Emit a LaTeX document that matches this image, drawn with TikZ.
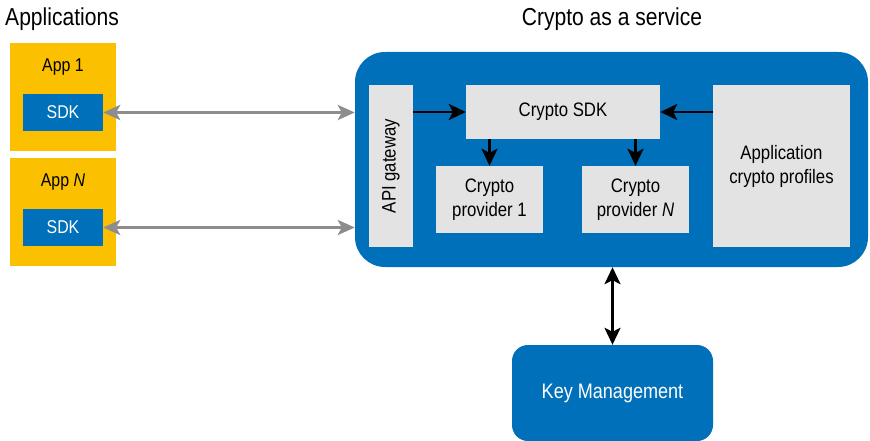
\documentclass[tikz,border=0pt]{standalone}
\usepackage{fontspec}
\setmainfont{Liberation Sans}[FakeStretch=0.86]
\usetikzlibrary{arrows.meta}
\definecolor{appyellow}{HTML}{FBC000}
\definecolor{svcblue}{HTML}{0070BA}
\definecolor{boxgray}{HTML}{E4E3E4}
\definecolor{arrgray}{HTML}{8E8C8D}
\tikzset{
  appbox/.style={fill=appyellow, draw=none, minimum width=106pt, minimum height=108pt, inner sep=0pt},
  sdkbox/.style={fill=svcblue, draw=none, text=white, minimum width=80pt, minimum height=37pt, inner sep=0pt, font=\fontsize{18.5}{20}\selectfont},
  graybox/.style={fill=boxgray, draw=none, text=black, inner sep=0pt, align=center, font=\fontsize{19.5}{24}\selectfont},
  lbl/.style={inner sep=0pt, font=\fontsize{18.5}{20}\selectfont},
  title/.style={inner sep=0pt, font=\fontsize{24.5}{26}\selectfont},
  grayarrow/.style={draw=arrgray, line width=3pt, {Stealth[length=17pt,width=15pt,inset=4pt]}-{Stealth[length=17pt,width=15pt,inset=4pt]}},
  blackarrow/.style={draw=black, line width=2.5pt, -{Stealth[length=17pt,width=16pt,inset=4pt]}},
  blackarrow2/.style={draw=black, line width=2.5pt, {Stealth[length=17pt,width=16pt,inset=4pt]}-{Stealth[length=17pt,width=16pt,inset=4pt]}}
}
\begin{document}
\begin{tikzpicture}[x=1pt,y=-1pt]
\useasboundingbox (0,0) rectangle (870,441);
% titles
\node[title, anchor=west] (tapps) at (5,19) {Applications};
\node[title] (tsvc) at (612,19) {Crypto as a service};
% applications
\node[appbox] (app1) at (63,97) {};
\node[lbl] (app1l) at (63,67) {App 1};
\node[sdkbox] (sdk1) at (63,112.5) {SDK};
\node[appbox] (appN) at (63,212) {};
\node[lbl] (appNl) at (63,182) {App \textit{N}};
\node[sdkbox] (sdkN) at (63,227.5) {SDK};
% service
\node[fill=svcblue, draw=none, rounded corners=30pt, minimum width=513pt, minimum height=215pt, inner sep=0pt] (svc) at (611.5,159.5) {};
\node[graybox, minimum width=44pt, minimum height=162pt] (api) at (391,166) {};
\node[inner sep=0pt, rotate=90, font=\fontsize{19.5}{24}\selectfont] (apil) at (391,166) {API gateway};
\node[graybox, minimum width=194pt, minimum height=54pt] (csdk) at (563,112) {Crypto SDK};
\node[graybox, minimum width=107pt, minimum height=67pt] (p1) at (489.5,199.5) {Crypto\\provider 1};
\node[graybox, minimum width=107pt, minimum height=67pt] (pN) at (635.5,199.5) {Crypto\\provider \textit{N}};
\node[graybox, minimum width=137pt, minimum height=162pt] (prof) at (781.5,166) {Application\\crypto profiles};
% key management
\node[fill=svcblue, draw=none, rounded corners=16pt, minimum width=201pt, minimum height=96pt, inner sep=0pt, text=white, font=\fontsize{21}{24}\selectfont] (km) at (612.5,393) {Key Management};
% connectors
\draw[grayarrow] (sdk1.east) -- (sdk1.east -| svc.west);
\draw[grayarrow] (sdkN.east) -- (sdkN.east -| svc.west);
\draw[blackarrow] (api.east |- csdk.west) -- (csdk.west);
\draw[blackarrow] (prof.west |- csdk.east) -- (csdk.east);
\draw[blackarrow] (csdk.south -| p1.north) -- (p1.north);
\draw[blackarrow] (csdk.south -| pN.north) -- (pN.north);
\draw[blackarrow2] (km.north |- svc.south) -- (km.north);
\end{tikzpicture}
\end{document}
